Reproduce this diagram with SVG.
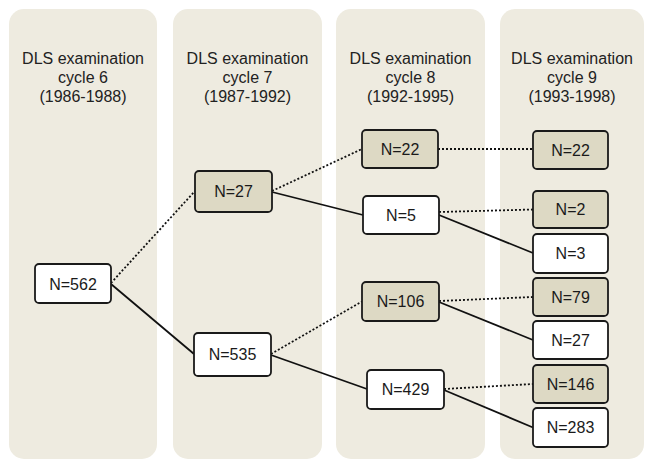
<svg xmlns="http://www.w3.org/2000/svg" width="645" height="460" viewBox="0 0 645 460">
<style>
.col{fill:#eeebe0;}
.hdr{font-family:"Liberation Sans",Arial,sans-serif;font-size:16px;fill:#222;text-anchor:middle;}
.nd{stroke:#1a1a1a;stroke-width:1.8;}
.w{fill:#ffffff;}
.t{fill:#ddd9c4;}
.lbl{font-family:"Liberation Sans",Arial,sans-serif;font-size:16px;fill:#1a1a1a;text-anchor:middle;}
.s{stroke:#111;stroke-width:1.8;fill:none;}
.d{stroke:#111;stroke-width:1.8;fill:none;stroke-dasharray:2,2;}
</style>
<g id="columns">
<rect class="col" x="9" y="9" width="148" height="450" rx="15"/>
<rect class="col" x="173" y="9" width="149" height="450" rx="15"/>
<rect class="col" x="336" y="9" width="149" height="450" rx="15"/>
<rect class="col" x="500" y="9" width="144" height="450" rx="15"/>
<text class="hdr" x="83" y="64">DLS examination</text>
<text class="hdr" x="83" y="83">cycle 6</text>
<text class="hdr" x="83" y="102">(1986-1988)</text>
<text class="hdr" x="247.5" y="64">DLS examination</text>
<text class="hdr" x="247.5" y="83">cycle 7</text>
<text class="hdr" x="247.5" y="102">(1987-1992)</text>
<text class="hdr" x="410.5" y="64">DLS examination</text>
<text class="hdr" x="410.5" y="83">cycle 8</text>
<text class="hdr" x="410.5" y="102">(1992-1995)</text>
<text class="hdr" x="572" y="64">DLS examination</text>
<text class="hdr" x="572" y="83">cycle 9</text>
<text class="hdr" x="572" y="102">(1993-1998)</text>
</g>
<g id="connectors">
<line class="d" x1="111" y1="283" x2="195" y2="191"/>
<line class="s" x1="111" y1="284" x2="194" y2="354"/>
<line class="d" x1="272" y1="191" x2="362" y2="149"/>
<line class="s" x1="272" y1="192" x2="363" y2="215"/>
<line class="d" x1="438" y1="149" x2="533" y2="149"/>
<line class="d" x1="439" y1="212" x2="533" y2="209.5"/>
<line class="s" x1="439" y1="215" x2="533" y2="253"/>
<line class="d" x1="271" y1="354" x2="362" y2="301.5"/>
<line class="s" x1="271" y1="355" x2="367" y2="389"/>
<line class="d" x1="439" y1="301" x2="533" y2="297"/>
<line class="s" x1="439" y1="302" x2="533" y2="340"/>
<line class="d" x1="444" y1="389" x2="533" y2="384"/>
<line class="s" x1="444" y1="390" x2="533" y2="427.5"/>
</g>
<g id="n562"><rect class="nd w" x="35" y="264" width="76" height="39" rx="4"/><text class="lbl" x="73" y="289.5">N=562</text></g>
<g id="n27a"><rect class="nd t" x="195" y="171" width="77" height="41" rx="4"/><text class="lbl" x="233.5" y="197">N=27</text></g>
<g id="n535"><rect class="nd w" x="194" y="333" width="77" height="43" rx="4"/><text class="lbl" x="232.5" y="360">N=535</text></g>
<g id="n22a"><rect class="nd t" x="362" y="130" width="76" height="38" rx="4"/><text class="lbl" x="400" y="155">N=22</text></g>
<g id="n5"><rect class="nd w" x="363" y="196" width="76" height="38" rx="4"/><text class="lbl" x="401" y="221">N=5</text></g>
<g id="n106"><rect class="nd t" x="362" y="282" width="77" height="39" rx="4"/><text class="lbl" x="400.5" y="307">N=106</text></g>
<g id="n429"><rect class="nd w" x="367" y="370" width="77" height="39" rx="4"/><text class="lbl" x="405.5" y="395">N=429</text></g>
<g id="n22b"><rect class="nd t" x="533" y="131" width="75" height="38" rx="4"/><text class="lbl" x="570.5" y="155.5">N=22</text></g>
<g id="n2"><rect class="nd t" x="533" y="191" width="75" height="37" rx="4"/><text class="lbl" x="570.5" y="215">N=2</text></g>
<g id="n3"><rect class="nd w" x="533" y="234" width="75" height="39" rx="4"/><text class="lbl" x="570.5" y="259">N=3</text></g>
<g id="n79"><rect class="nd t" x="533" y="278" width="75" height="38" rx="4"/><text class="lbl" x="570.5" y="302.5">N=79</text></g>
<g id="n27b"><rect class="nd w" x="533" y="321" width="75" height="38" rx="4"/><text class="lbl" x="570.5" y="345.5">N=27</text></g>
<g id="n146"><rect class="nd t" x="533" y="365" width="75" height="38" rx="4"/><text class="lbl" x="570.5" y="389.5">N=146</text></g>
<g id="n283"><rect class="nd w" x="533" y="408" width="75" height="39" rx="4"/><text class="lbl" x="570.5" y="433">N=283</text></g>
</svg>
